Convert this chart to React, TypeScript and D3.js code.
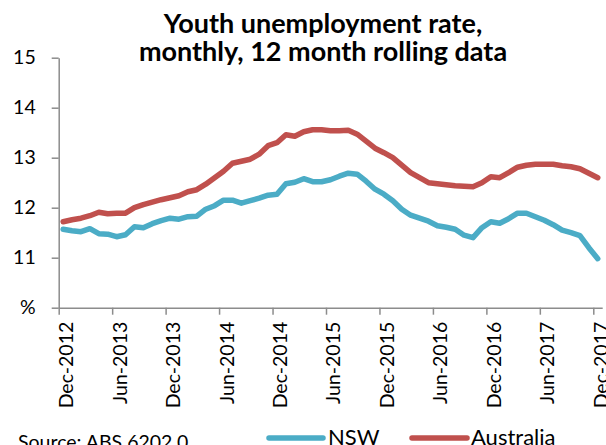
import React, { useEffect, useRef } from 'react'
import * as d3 from 'd3'

// monthly, Dec-2012 .. Dec-2017 (61 points)
const nsw = [
  11.57, 11.54, 11.52, 11.58, 11.48, 11.47, 11.42, 11.46, 11.62, 11.60,
  11.68, 11.74, 11.79, 11.77, 11.82, 11.83, 11.97, 12.04, 12.15, 12.15,
  12.09, 12.14, 12.19, 12.25, 12.27, 12.48, 12.51, 12.58, 12.52, 12.52,
  12.56, 12.63, 12.69, 12.67, 12.53, 12.37, 12.27, 12.14, 11.97, 11.85,
  11.79, 11.73, 11.64, 11.61, 11.57, 11.45, 11.40, 11.60, 11.72, 11.69,
  11.78, 11.89, 11.89, 11.82, 11.75, 11.66, 11.55, 11.50, 11.44, 11.20,
  10.98
]

const australia = [
  11.72, 11.76, 11.79, 11.84, 11.91, 11.88, 11.89, 11.89, 12.00, 12.06,
  12.11, 12.16, 12.20, 12.24, 12.32, 12.36, 12.47, 12.60, 12.73, 12.89,
  12.93, 12.97, 13.07, 13.24, 13.30, 13.46, 13.43, 13.52, 13.56, 13.56,
  13.54, 13.54, 13.55, 13.47, 13.33, 13.19, 13.10, 13.00, 12.85, 12.70,
  12.60, 12.50, 12.48, 12.46, 12.44, 12.43, 12.42, 12.50, 12.62, 12.60,
  12.70, 12.81, 12.85, 12.87, 12.87, 12.87, 12.84, 12.82, 12.78, 12.69,
  12.60
]

const tickLabels = [
  'Dec-2012', 'Jun-2013', 'Dec-2013', 'Jun-2014', 'Dec-2014', 'Jun-2015',
  'Dec-2015', 'Jun-2016', 'Dec-2016', 'Jun-2017', 'Dec-2017'
]
const tickMonths = [0, 6, 12, 18, 24, 30, 36, 42, 48, 54, 60]
const yTicks = [10, 11, 12, 13, 14, 15]

const series = [
  { name: 'NSW', values: nsw, color: '#4bacc6' },
  { name: 'Australia', values: australia, color: '#c0504d' }
]

const FONT = 'Lato, "Open Sans", sans-serif'
const AXIS = '#8c8c8c'

export default function App () {
  const ref = useRef(null)

  useEffect(() => {
    const svg = d3.select(ref.current)
    svg.selectAll('*').remove()

    const x = d3.scaleLinear().domain([0, 61]).range([58.7, 602.2])
    const y = d3.scaleLinear().domain([10, 15]).range([307.7, 57.7])

    // title
    const title = svg.append('text')
      .attr('text-anchor', 'middle')
      .attr('font-family', FONT)
      .attr('font-weight', 'bold')
      .attr('font-size', 27)
      .attr('fill', '#000')
    title.append('tspan').attr('x', 323).attr('y', 33).text('Youth unemployment rate,')
    title.append('tspan').attr('x', 323).attr('y', 61).text('monthly, 12 month rolling data')

    // lines
    const line = d3.line()
      .x((d, i) => x(i + 0.5))
      .y((d) => y(d))
    svg.append('g').selectAll('path')
      .data(series)
      .enter().append('path')
      .attr('d', (s) => line(s.values))
      .attr('fill', 'none')
      .attr('stroke', (s) => s.color)
      .attr('stroke-width', 5.5)
      .attr('stroke-linejoin', 'round')
      .attr('stroke-linecap', 'round')

    // y axis
    const yAxis = svg.append('g')
      .attr('transform', 'translate(58.7,0)')
      .call(d3.axisLeft(y).tickValues(yTicks).tickSize(7).tickSizeOuter(0).tickPadding(16)
        .tickFormat((d) => (d === 10 ? '%' : String(d))))
    // x axis
    const xAxis = svg.append('g')
      .attr('transform', 'translate(0,307.7)')
      .call(d3.axisBottom(x).tickValues(tickMonths).tickSize(7).tickSizeOuter(0)
        .tickFormat((d, i) => tickLabels[i]))

    xAxis.selectAll('text')
      .attr('transform', 'rotate(-90)')
      .attr('text-anchor', 'end')
      .attr('x', -14)
      .attr('y', 14)
      .attr('dy', 0)

    for (const ax of [yAxis, xAxis]) {
      ax.selectAll('path, line').attr('stroke', AXIS).attr('stroke-width', 1.5)
      ax.selectAll('text').attr('fill', '#000').attr('font-size', 19.5).attr('font-family', FONT)
    }

    // source
    svg.append('text')
      .attr('x', 18).attr('y', 449)
      .attr('font-family', FONT).attr('font-size', 19.5).attr('fill', '#000')
      .text('Source: ABS 6202.0')

    // legend
    const legendPos = [{ x1: 269, x2: 323, tx: 328 }, { x1: 412, x2: 467, tx: 471 }]
    const legend = svg.append('g').selectAll('g')
      .data(series)
      .enter().append('g')
    legend.append('line')
      .attr('x1', (s, i) => legendPos[i].x1)
      .attr('x2', (s, i) => legendPos[i].x2)
      .attr('y1', 438).attr('y2', 438)
      .attr('stroke', (s) => s.color)
      .attr('stroke-width', 5.5)
      .attr('stroke-linecap', 'round')
    legend.append('text')
      .attr('x', (s, i) => legendPos[i].tx)
      .attr('y', 445)
      .attr('font-family', FONT).attr('font-size', 22).attr('fill', '#000')
      .text((s) => s.name)
  }, [])

  return (
    <svg ref={ref} width={606} height={445}
      style={{ position: 'absolute', left: 0, top: 0, background: '#fff' }} />
  )
}
